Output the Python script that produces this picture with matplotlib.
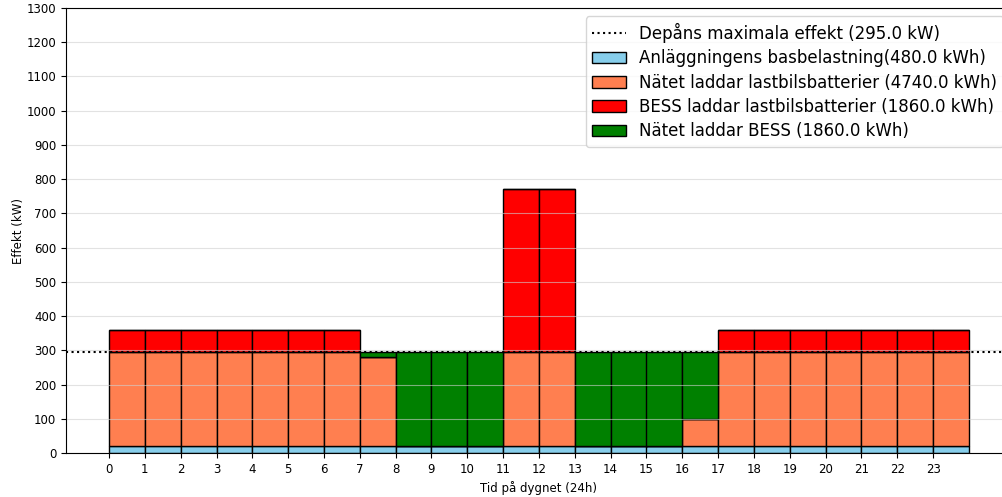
import numpy as np
import matplotlib.pyplot as plt

# hourly power in kW
hours = np.arange(24)
base_load = [20] * 24
grid_to_trucks = [275] * 7 + [260] + [0] * 3 + [275, 275] + [0] * 3 + [80] + [275] * 7
bess_to_trucks = [65] * 7 + [0] * 4 + [475, 475] + [0] * 4 + [65] * 7
grid_to_bess = [0] * 7 + [15] + [275] * 3 + [0, 0] + [275] * 3 + [195] + [0] * 7
max_power = 295.0

labels = [
    "Anläggningens basbelastning(480.0 kWh)",
    "Nätet laddar lastbilsbatterier (4740.0 kWh)",
    "BESS laddar lastbilsbatterier (1860.0 kWh)",
    "Nätet laddar BESS (1860.0 kWh)",
]
colors = ["skyblue", "coral", "red", "green"]

fig = plt.figure(figsize=(10.03, 4.97), dpi=100)
# axes runs past the right edge, like the cropped original
ax = fig.add_axes([66 / 1003, 44 / 497, 946 / 1003, 445 / 497])

ax.axhline(max_power, color="black", linestyle=":", label=f"Depåns maximala effekt ({max_power} kW)")

bottom = np.zeros(24)
for vals, lab, col in zip([base_load, grid_to_trucks, bess_to_trucks, grid_to_bess], labels, colors):
    vals = np.array(vals, dtype=float)
    ax.bar(hours, vals, width=1, align="edge", bottom=bottom, color=col,
           edgecolor="black", label=lab)
    bottom += vals

ax.set_ylim(0, 1300)
ax.set_xlim(-1.2, 25.2)
ax.set_yticks(np.arange(0, 1301, 100))
ax.set_xticks(hours)
ax.tick_params(labelsize=8.5)
ax.grid(axis="y", color="#d0d0d0", alpha=0.6)
ax.set_xlabel("Tid på dygnet (24h)", fontsize=8.5)
ax.set_ylabel("Effekt (kW)", fontsize=8.5, labelpad=1)
ax.legend(loc="upper right", fontsize=12, labelspacing=0.38)

fig.savefig("out.png", dpi=100)
